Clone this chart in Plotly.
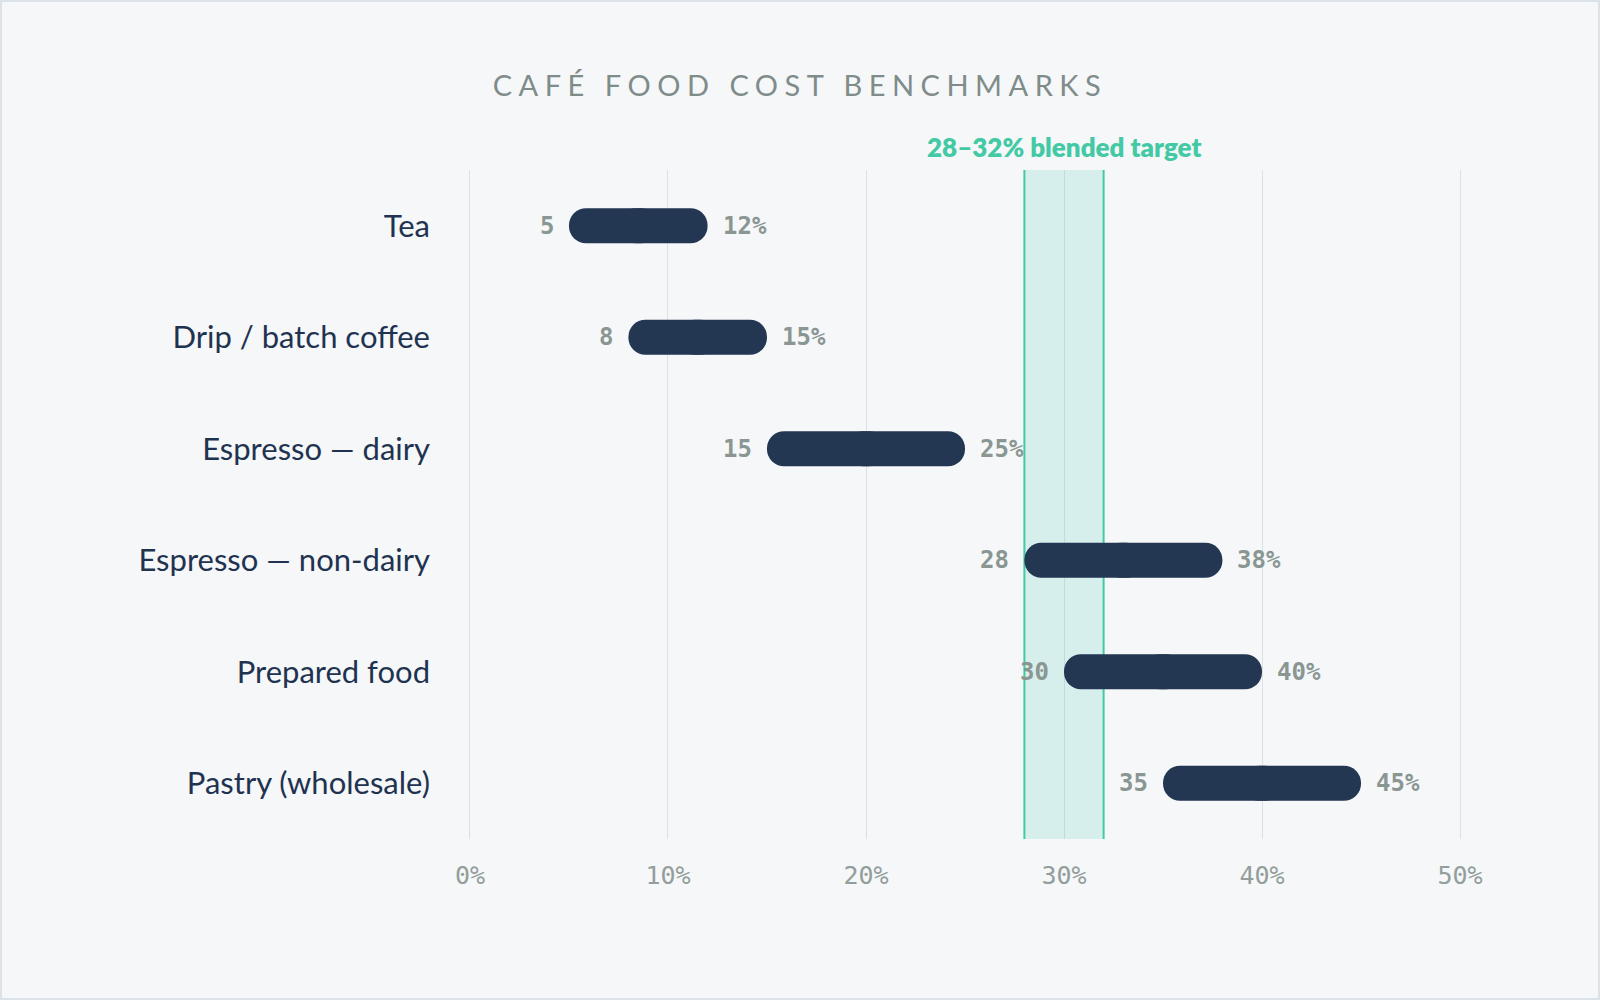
import plotly.graph_objects as go

# ---- data ----
categories = ["Tea", "Drip / batch coffee", "Espresso — dairy",
              "Espresso — non-dairy", "Prepared food", "Pastry (wholesale)"]
low = [5, 8, 15, 28, 30, 35]
high = [12, 15, 25, 38, 40, 45]
target_low, target_high = 28, 32
target_label = "28–32% blended target"
x_tick_vals = [0, 10, 20, 30, 40, 50]
x_tick_text = ["0%", "10%", "20%", "30%", "40%", "50%"]
title_text = "CAFÉ FOOD COST BENCHMARKS"

# ---- style ----
BG = "#f5f7f9"
NAVY = "#233652"
GREY = "#8a9692"
TEAL = "#43c9a4"
BAND = "#d6eeec"
GRID = "rgba(120,140,150,0.2)"
W, H = 1600, 1000
ML, MR, MT, MB = 468, 138, 170, 161
XPAD = 0.1

mids = [(a + b) / 2 for a, b in zip(low, high)]
ov = 1.0  # halves overlap slightly so no seam appears

fig = go.Figure()
# right half (rounded at right end)
fig.add_trace(go.Bar(
    y=categories, base=[m - ov for m in mids],
    x=[h - (m - ov) for h, m in zip(high, mids)],
    orientation="h", width=0.314, marker=dict(color=NAVY, cornerradius="50%", line=dict(width=0)),
    hoverinfo="skip", showlegend=False))
# left half (rounded at left end)
fig.add_trace(go.Bar(
    y=categories, base=[m + ov for m in mids],
    x=[l - (m + ov) for l, m in zip(low, mids)],
    orientation="h", width=0.314, marker=dict(color=NAVY, cornerradius="50%", line=dict(width=0)),
    hoverinfo="skip", showlegend=False))

annotations = []
for c, lo, hi in zip(categories, low, high):
    annotations.append(dict(x=lo, y=c, xref="x", yref="y", text=str(lo), showarrow=False,
                            xanchor="right", yanchor="middle", xshift=-13,
                            font=dict(family="DejaVu Sans Mono", size=24, color=GREY, weight="bold")))
    annotations.append(dict(x=hi, y=c, xref="x", yref="y", text=f"{hi}%", showarrow=False,
                            xanchor="left", yanchor="middle", xshift=13,
                            font=dict(family="DejaVu Sans Mono", size=24, color=GREY, weight="bold")))
annotations.append(dict(x=(target_low + target_high) / 2, y=1, xref="x", yref="paper",
                        text=target_label, showarrow=False, xanchor="center", yanchor="middle",
                        yshift=23, font=dict(family="Lato", size=26, color=TEAL, weight=800)))

pw = W - ML - MR
ph = H - MT - MB
shapes = [
    dict(type="rect", xref="x", yref="paper", x0=target_low, x1=target_high, y0=0, y1=1,
         fillcolor=BAND, line=dict(width=0), layer="below"),
    dict(type="line", xref="x", yref="paper", x0=target_low, x1=target_low, y0=0, y1=1,
         line=dict(color=TEAL, width=2), layer="between"),
    dict(type="line", xref="x", yref="paper", x0=target_high, x1=target_high, y0=0, y1=1,
         line=dict(color=TEAL, width=2), layer="between"),
    # outer frame
    dict(type="rect", xref="paper", yref="paper",
         x0=-ML / pw, x1=1 + MR / pw, y0=-MB / ph, y1=1 + MT / ph,
         line=dict(color="#dde1e8", width=4), fillcolor="rgba(0,0,0,0)", layer="above"),
]

fig.update_layout(
    width=W, height=H,
    margin=dict(l=ML, r=MR, t=MT, b=MB, pad=0),
    paper_bgcolor=BG, plot_bgcolor=BG,
    barmode="overlay",
    title=dict(text=title_text, x=0.5, xanchor="center", y=1 - 86 / H, yanchor="middle",
               yref="container",
               font=dict(family="Lato", size=29, color="#7f8c8a", weight=400)),
    xaxis=dict(range=[x_tick_vals[0] - XPAD, x_tick_vals[-1] + XPAD],
               tickvals=x_tick_vals, ticktext=x_tick_text,
               showgrid=True, gridcolor=GRID, gridwidth=1, zeroline=False, showline=False,
               ticks="", ticklabelstandoff=19,
               tickfont=dict(family="DejaVu Sans Mono", size=25, color="#939e9b")),
    yaxis=dict(categoryorder="array", categoryarray=categories, range=[5.5, -0.5],
               showgrid=False, zeroline=False, showline=False, ticks="",
               ticklabelstandoff=37,
               tickfont=dict(family="Lato", size=31, color="#1f3350")),
    annotations=annotations, shapes=shapes,
)

post = ("var t=document.querySelector('[id=\"{plot_id}\"] .gtitle');"
        "if(t){t.style.letterSpacing='6.5px';}")
fig.write_html("out.html", post_script=post)
